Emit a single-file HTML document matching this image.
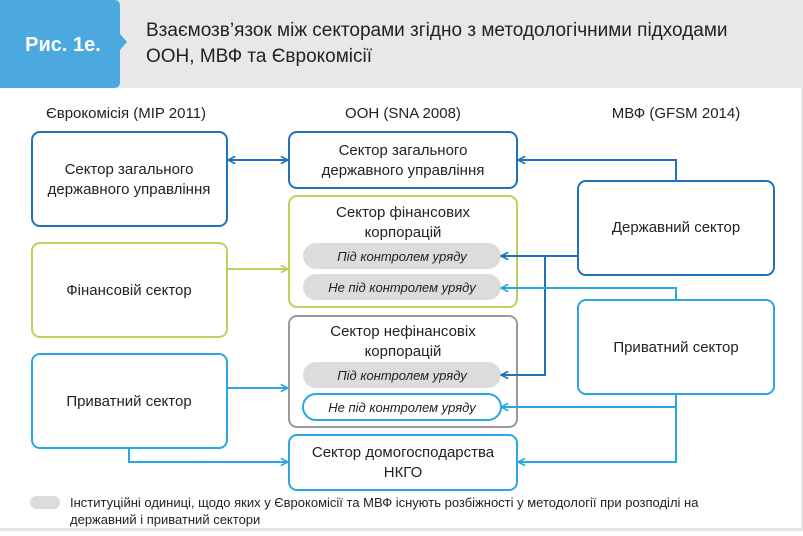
<!DOCTYPE html>
<html><head><meta charset="utf-8"><style>
html,body{margin:0;padding:0;background:#fff;}
body{width:803px;height:531px;overflow:hidden;font-family:"Liberation Sans","Noto Sans CJK SC",sans-serif;}
svg text{font-family:"Liberation Sans","Noto Sans CJK SC",sans-serif;}
</style></head><body>
<svg width="803" height="531" viewBox="0 0 803 531" xmlns="http://www.w3.org/2000/svg">
<defs>
<marker id="ad" viewBox="0 0 10 10" refX="9" refY="5" markerWidth="9" markerHeight="9" orient="auto-start-reverse" markerUnits="userSpaceOnUse"><path d="M1,1 L9,5 L1,9" fill="none" stroke="#1f72b8" stroke-width="1.8"/></marker>
<marker id="al" viewBox="0 0 10 10" refX="9" refY="5" markerWidth="9" markerHeight="9" orient="auto" markerUnits="userSpaceOnUse"><path d="M1,1 L9,5 L1,9" fill="none" stroke="#2aa6e0" stroke-width="1.8"/></marker>
<marker id="ag" viewBox="0 0 10 10" refX="9" refY="5" markerWidth="9" markerHeight="9" orient="auto" markerUnits="userSpaceOnUse"><path d="M1,1 L9,5 L1,9" fill="none" stroke="#b5d55a" stroke-width="1.8"/></marker>
</defs>
<rect x="0" y="0" width="803" height="88" fill="#e8e8e8"/>
<path d="M0,0 H114 Q120,0 120,6 V34 L127,42 L120,50 V82 Q120,88 114,88 H0 Z" fill="#4ba9df"/>
<text x="63" y="51" font-size="20" font-weight="bold" fill="#fff" text-anchor="middle">Рис. 1е.</text>
<text x="146" y="36" font-size="19" fill="#222">Взаємозв’язок між секторами згідно з методологічними підходами</text>
<text x="146" y="62" font-size="19" fill="#222">ООН, МВФ та Єврокомісії</text>
<rect x="801" y="88" width="2" height="443" fill="#e5e5e5"/>
<rect x="0" y="528" width="803" height="3" fill="#e5e5e5"/>

<g font-size="15" fill="#222" text-anchor="middle">
<text x="126" y="118">Єврокомісія (MIP 2011)</text>
<text x="403" y="118">ООН (SNA 2008)</text>
<text x="676" y="118">МВФ (GFSM 2014)</text>
</g>

<g fill="none" stroke-width="2">
<rect x="32" y="132" width="195" height="94" rx="8" stroke="#1f72b8"/>
<rect x="32" y="243" width="195" height="94" rx="8" stroke="#b5d55a"/>
<rect x="32" y="354" width="195" height="94" rx="8" stroke="#2aa6e0"/>
<rect x="289" y="132" width="228" height="56" rx="8" stroke="#1f72b8"/>
<rect x="289" y="196" width="228" height="111" rx="8" stroke="#b5d55a"/>
<rect x="289" y="316" width="228" height="111" rx="8" stroke="#999"/>
<rect x="289" y="435" width="228" height="55" rx="8" stroke="#2aa6e0"/>
<rect x="578" y="181" width="196" height="94" rx="8" stroke="#1f72b8"/>
<rect x="578" y="300" width="196" height="94" rx="8" stroke="#2aa6e0"/>
</g>
<rect x="303" y="243" width="198" height="26" rx="13" fill="#dcdcdc"/>
<rect x="303" y="274" width="198" height="26" rx="13" fill="#dcdcdc"/>
<rect x="303" y="362" width="198" height="26" rx="13" fill="#dcdcdc"/>
<rect x="303" y="394" width="198" height="26" rx="13" fill="#fff" stroke="#2aa6e0" stroke-width="2"/>
<rect x="30" y="496" width="30" height="13" rx="6.5" fill="#dcdcdc"/>

<g font-size="15" fill="#222" text-anchor="middle">
<text x="129" y="174">Сектор загального</text>
<text x="129" y="194">державного управління</text>
<text x="129" y="295">Фінансовій сектор</text>
<text x="129" y="406">Приватний сектор</text>
<text x="403" y="155">Сектор загального</text>
<text x="403" y="175">державного управління</text>
<text x="403" y="217">Сектор фінансових</text>
<text x="403" y="237">корпорацій</text>
<text x="403" y="336">Сектор нефінансовіх</text>
<text x="403" y="356">корпорацій</text>
<text x="403" y="457">Сектор домогосподарства</text>
<text x="403" y="477">НКГО</text>
<text x="676" y="232">Державний сектор</text>
<text x="676" y="352">Приватний сектор</text>
</g>
<g font-size="13" font-style="italic" fill="#222" text-anchor="middle">
<text x="402" y="261">Під контролем уряду</text>
<text x="402" y="292">Не під контролем уряду</text>
<text x="402" y="380">Під контролем уряду</text>
<text x="402" y="412">Не під контролем уряду</text>
</g>
<g font-size="13" fill="#222">
<text x="70" y="507">Інституційні одиниці, щодо яких у Єврокомісії та МВФ існують розбіжності у методології при розподілі на</text>
<text x="70" y="524">державний і приватний сектори</text>
</g>

<g fill="none" stroke-width="2">
<line x1="228" y1="160" x2="288" y2="160" stroke="#1f72b8" marker-start="url(#ad)" marker-end="url(#ad)"/>
<polyline points="676,181 676,160 518,160" stroke="#1f72b8" marker-end="url(#ad)"/>
<polyline points="578,256 501,256" stroke="#1f72b8" marker-end="url(#ad)"/>
<polyline points="545,256 545,375 501,375" stroke="#1f72b8" marker-end="url(#ad)"/>
<polyline points="676,300 676,288 501,288" stroke="#2aa6e0" marker-end="url(#al)"/>
<polyline points="676,394 676,407 501,407" stroke="#2aa6e0" marker-end="url(#al)"/>
<polyline points="676,407 676,462 518,462" stroke="#2aa6e0" marker-end="url(#al)"/>
<line x1="227" y1="269" x2="288" y2="269" stroke="#b5d55a" marker-end="url(#ag)"/>
<line x1="227" y1="388" x2="288" y2="388" stroke="#2aa6e0" marker-end="url(#al)"/>
<polyline points="129,448 129,462 288,462" stroke="#2aa6e0" marker-end="url(#al)"/>
</g>
</svg>
</body></html>
